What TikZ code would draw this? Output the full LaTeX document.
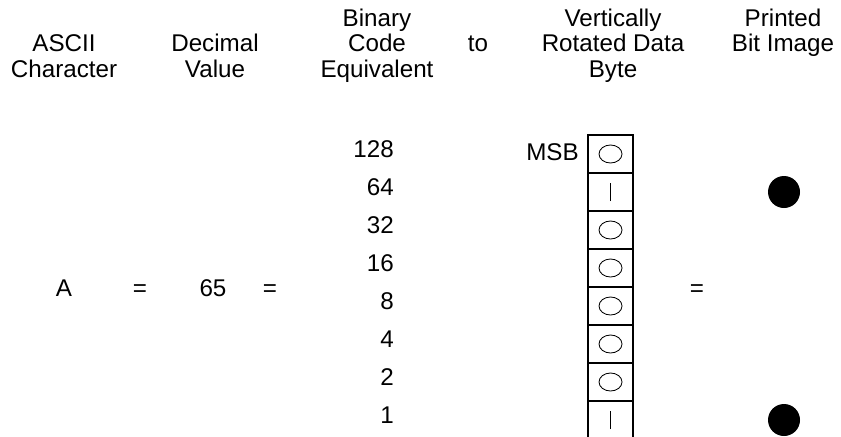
\documentclass[tikz,border=0pt]{standalone}
\usepackage{fontspec}
\setmainfont{Liberation Sans}
\usepackage{tikz}

\begin{document}
\begin{tikzpicture}[
    txt/.style={inner sep=0pt, font=\fontsize{17.2}{17.8}\selectfont},
    head/.style={txt, align=center, anchor=base},
    cellbox/.style={draw, line width=1pt, minimum width=1.125cm, minimum height=0.95cm, inner sep=0pt},
    bitdot/.style={circle, fill=black, minimum size=0.8cm, inner sep=0pt}
  ]
  \useasboundingbox (0,0) rectangle (21.025,10.9);

  % Encabezados
  \node[head] (hascii) at (1.6,8.975) {ASCII\\Character};
  \node[head] (hdec) at (5.375,8.975) {Decimal\\Value};
  \node[head] (hbin) at (9.425,8.975) {Binary\\Code\\Equivalent};
  \node[head] (hto) at (11.95,9.6) {to};
  \node[head] (hrot) at (15.325,8.975) {Vertically\\Rotated Data\\Byte};
  \node[head] (hprint) at (19.575,9.6) {Printed\\Bit Image};

  % Fila del caracter
  \node[txt, anchor=base] (chr) at (1.6,3.5) {A};
  \node[txt, anchor=base] (eq1) at (3.5,3.5) {=};
  \node[txt, anchor=base] (dec) at (5.325,3.5) {65};
  \node[txt, anchor=base] (eq2) at (6.75,3.5) {=};
  \node[txt, anchor=base] (eq3) at (17.425,3.5) {=};

  % Pesos de los bits
  \foreach \v [count=\i] in {128,64,32,16,8,4,2,1}
    \node[txt, anchor=base east] (n\v) at (9.85,{7.9125-0.95*\i}) {\v};

  % Byte rotado
  \foreach \i in {1,...,8}
    \node[cellbox] (c\i) at (15.2625,{8.0-0.95*\i}) {};
  \foreach \i in {1,3,4,5,6,7}
    \draw[line width=0.6pt] (c\i.center) ellipse (0.2875cm and 0.225cm);
  \foreach \i in {2,8}
    \draw[line width=1pt] ([yshift=-0.225cm]c\i.center) -- ([yshift=0.225cm]c\i.center);
  \node[txt, anchor=base east] (msb) at (14.475,6.8875) {MSB};

  % Imagen impresa
  \node[bitdot] (d2) at (19.6,6.1) {};
  \node[bitdot] (d8) at (19.6,0.4) {};
\end{tikzpicture}
\end{document}
